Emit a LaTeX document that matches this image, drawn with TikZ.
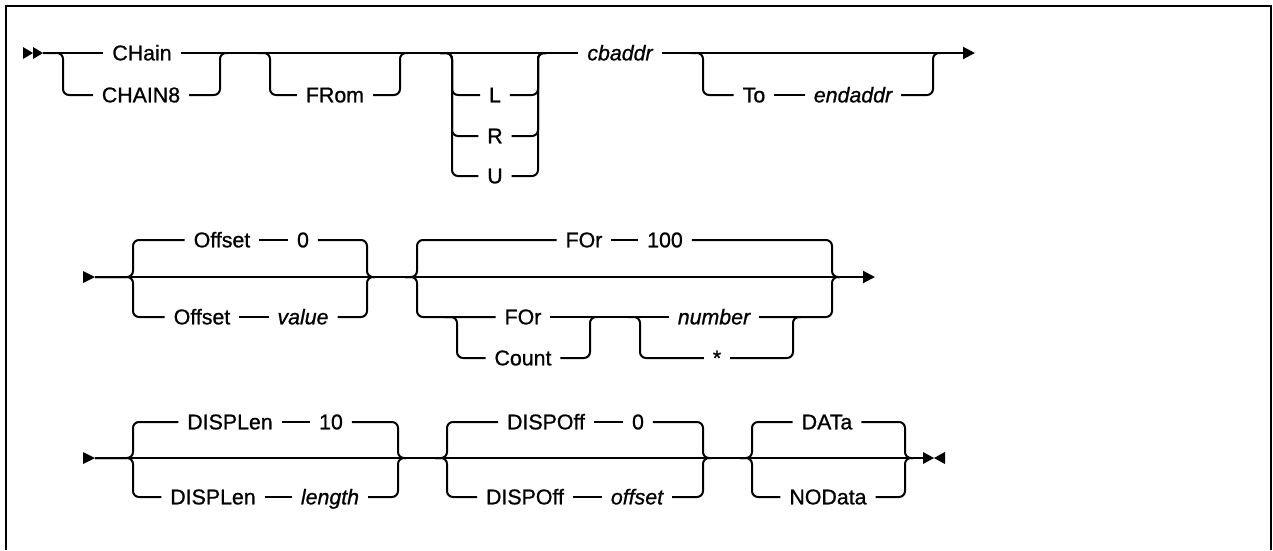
\documentclass[tikz,border=0pt]{standalone}
\usepackage{fontspec}
\setmainfont{Liberation Sans}[FakeBold=0.9]
\usepackage{tikz}
\usetikzlibrary{arrows.meta}

\begin{document}
\begin{tikzpicture}[
	x = 0.75pt,
	y = -0.75pt,
	line width = 1.5pt,
	rail/.style = {rounded corners=4.5pt},
	kw/.style = {inner xsep=6pt, inner ysep=0pt, text height=14pt, text depth=3pt,
		font=\fontsize{16}{18}\selectfont},
	var/.style = {kw, font=\fontsize{16}{18}\selectfont\itshape},
	tip/.style = {-{Triangle[length=9pt, width=9pt]}}
	]
	\useasboundingbox (0,0) rectangle (1273,550);
	\draw[line width=2pt] (6,550) -- (6,6) -- (1271,6) -- (1271,550);

	% row 1
	\fill (23,47) -- (33,53) -- (23,59) -- cycle;
	\fill (33,47) -- (43,53) -- (33,59) -- cycle;
	\coordinate (s1) at (43,53);
	\coordinate (e1) at (975,53);
	\node[kw] (chain) at (142,53) {CHain};
	\node[kw] (chain8) at (141,95) {CHAIN8};
	\node[kw] (from) at (335,95) {FRom};
	\node[kw] (l) at (495,95) {L};
	\node[kw] (r) at (495,136) {R};
	\node[kw] (u) at (495,176) {U};
	\node[var] (cbaddr) at (620,53) {cbaddr};
	\node[kw] (to) at (754,95) {To};
	\node[var] (endaddr) at (853,95) {endaddr};
	\coordinate (g1) at (258,53);
	\coordinate (g2) at (440,53);
	\coordinate (g3) at (691,53);

	\draw (s1) -- (chain.west);
	\draw (chain.east) -- (cbaddr.west);
	\draw[tip] (cbaddr.east) -- (e1);
	\draw[rail] (s1) -| (63,95) -- (chain8.west);
	\draw[rail] (chain8.east) -| (220,53) -- ++(8,0);
	\draw[rail] (g1) -| (270,95) -- (from.west);
	\draw[rail] (from.east) -| (400,53) -- ++(8,0);
	\draw[rail] (g2) -| (452,95) -- (l.west);
	\draw[rail] (g2) -| (452,136) -- (r.west);
	\draw[rail] (g2) -| (452,176) -- (u.west);
	\draw[rail] (l.east) -| (538,53) -- ++(8,0);
	\draw[rail] (r.east) -| (538,53) -- ++(8,0);
	\draw[rail] (u.east) -| (538,53) -- ++(8,0);
	\draw[rail] (g3) -| (703,95) -- (to.west);
	\draw (to.east) -- (endaddr.west);
	\draw[rail] (endaddr.east) -| (933,53) -- ++(8,0);

	% row 2
	\fill (83,271) -- (95,277) -- (83,283) -- cycle;
	\coordinate (s2) at (95,277);
	\coordinate (e2) at (875,277);
	\node[kw] (offa) at (222,240) {Offset};
	\node[kw] (zero) at (303,240) {0};
	\node[kw] (offb) at (202,317) {Offset};
	\node[var] (value) at (303,317) {value};
	\node[kw] (fora) at (584,240) {FOr};
	\node[kw] (hundred) at (665,240) {100};
	\node[kw] (forb) at (523,317) {FOr};
	\node[kw] (count) at (523,358) {Count};
	\node[var] (number) at (714,317) {number};
	\node[kw] (star) at (717,358) {*};
	\coordinate (g4) at (405,277);
	\coordinate (g5) at (445,317);
	\coordinate (g6) at (628,317);

	\draw[tip] (s2) -- (e2);
	\draw[rail] (s2) -| (133,240) -- (offa.west);
	\draw (offa.east) -- (zero.west);
	\draw[rail] (zero.east) -| (367,277) -- ++(8,0);
	\draw[rail] (s2) -| (133,317) -- (offb.west);
	\draw (offb.east) -- (value.west);
	\draw[rail] (value.east) -| (367,277) -- ++(8,0);
	\draw[rail] (g4) -| (417,240) -- (fora.west);
	\draw (fora.east) -- (hundred.west);
	\draw[rail] (hundred.east) -| (832,277) -- ++(8,0);
	\draw[rail] (g4) -| (417,317) -- (forb.west);
	\draw[rail] (g5) -| (457,358) -- (count.west);
	\draw[rail] (count.east) -| (590,317) -- ++(8,0);
	\draw (forb.east) -- (number.west);
	\draw[rail] (g6) -| (640,358) -- (star.west);
	\draw[rail] (star.east) -| (793,317) -- ++(8,0);
	\draw[rail] (number.east) -| (832,277) -- ++(8,0);

	% row 3
	\fill (83,452) -- (95,458) -- (83,464) -- cycle;
	\coordinate (s3) at (95,458);
	\coordinate (e3) at (923,458);
	\node[kw] (dlena) at (230,422) {DISPLen};
	\node[kw] (ten) at (331,422) {10};
	\node[kw] (dlenb) at (213,497) {DISPLen};
	\node[var] (length) at (330,497) {length};
	\node[kw] (doffa) at (546,422) {DISPOff};
	\node[kw] (dzero) at (638,422) {0};
	\node[kw] (doffb) at (525,497) {DISPOff};
	\node[var] (offset) at (637,497) {offset};
	\node[kw] (data) at (827,422) {DATa};
	\node[kw] (nodata) at (828,497) {NOData};
	\coordinate (g7) at (435,458);
	\coordinate (g8) at (740,458);

	\draw (s3) -- (e3);
	\draw[rail] (s3) -| (133,422) -- (dlena.west);
	\draw (dlena.east) -- (ten.west);
	\draw[rail] (ten.east) -| (398,458) -- ++(8,0);
	\draw[rail] (s3) -| (133,497) -- (dlenb.west);
	\draw (dlenb.east) -- (length.west);
	\draw[rail] (length.east) -| (398,458) -- ++(8,0);
	\draw[rail] (g7) -| (447,422) -- (doffa.west);
	\draw (doffa.east) -- (dzero.west);
	\draw[rail] (dzero.east) -| (703,458) -- ++(8,0);
	\draw[rail] (g7) -| (447,497) -- (doffb.west);
	\draw (doffb.east) -- (offset.west);
	\draw[rail] (offset.east) -| (703,458) -- ++(8,0);
	\draw[rail] (g8) -| (752,422) -- (data.west);
	\draw[rail] (data.east) -| (905,458) -- ++(8,0);
	\draw[rail] (g8) -| (752,497) -- (nodata.west);
	\draw[rail] (nodata.east) -| (905,458) -- ++(8,0);
	\fill (923,452) -- (934,458) -- (923,464) -- cycle;
	\fill (945,452) -- (934,458) -- (945,464) -- cycle;
\end{tikzpicture}
\end{document}
